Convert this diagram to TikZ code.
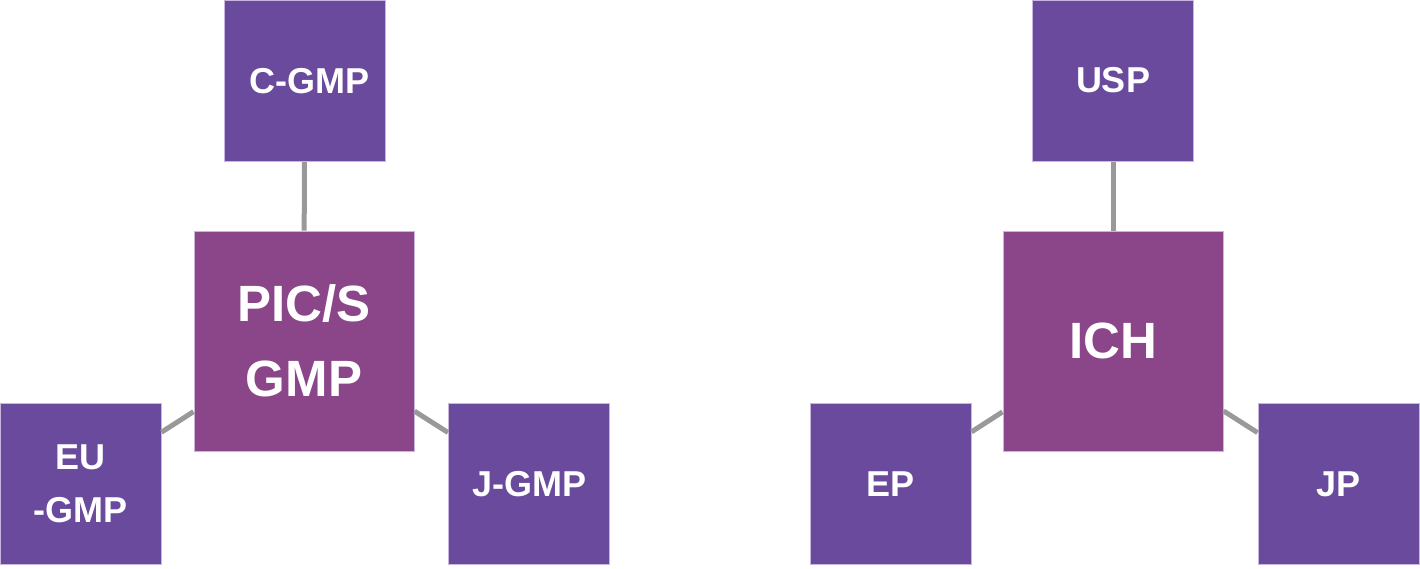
\documentclass[tikz,border=0pt]{standalone}
\usepackage{fontspec}
\setmainfont{Liberation Sans}
\begin{document}
\begin{tikzpicture}[x=1pt,y=-1pt,
  small/.style={rectangle, fill=smallpurple, draw=edgelav, line width=1pt, minimum width=161pt, minimum height=161pt, inner sep=0pt, text=white, font=\fontsize{36}{53}\selectfont\bfseries, align=center},
  big/.style={rectangle, fill=bigpurple, draw=edgelav, line width=1pt, minimum width=220pt, minimum height=220pt, inner sep=0pt, text=white, font=\fontsize{51}{75}\selectfont\bfseries, align=center},
  link/.style={draw=linkgray, line width=5pt}]
\definecolor{smallpurple}{HTML}{6A4A9C}
\definecolor{bigpurple}{HTML}{8B4589}
\definecolor{edgelav}{HTML}{C8B6DC}
\definecolor{linkgray}{HTML}{999999}
\useasboundingbox (0,0) rectangle (1420,568);
% left group
\node[small, text width=161pt, align=center] (cgmp) at (304.5,81) {\hspace*{10pt}C-GMP};
\node[big] (pics) at (304,341) {PIC/S\\GMP};
\node[small] (eu) at (80.5,484) {EU\\-GMP};
\node[small] (jgmp) at (529,484) {J-GMP};
\draw[link] (cgmp) -- (pics);
\draw[link] (eu) -- (pics);
\draw[link] (jgmp) -- (pics);
% right group
\node[small] (usp) at (1113,80.5) {USP};
\node[big] (ich) at (1113,341) {ICH};
\node[small] (ep) at (890.5,484) {EP};
\node[small] (jp) at (1338.5,484) {JP};
\draw[link] (usp) -- (ich);
\draw[link] (ep) -- (ich);
\draw[link] (jp) -- (ich);
\end{tikzpicture}
\end{document}
